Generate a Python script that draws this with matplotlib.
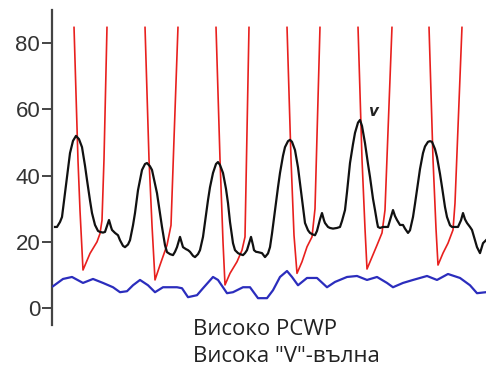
import numpy as np
import matplotlib
matplotlib.use("Agg")
import matplotlib.pyplot as plt

# Time base (arbitrary units) and pressures (mmHg)
nan = np.nan

# Left-ventricular pressure: each beat drawn from the top of the scale down
# to end-diastole and back up; systolic tops run off-scale.
lv_t = [74, 78, 80, 83, 90, 97, 100, 102, 104, 107, nan,
        145, 149, 152, 155, 160, 167, 171, 174, 178, nan,
        216, 220, 223, 225, 230, 237, 242, 245, 249, nan,
        287, 291, 294, 297, 302, 307, 312, 315, 320, nan,
        358, 362, 365, 367, 372, 377, 382, 385, 392, nan,
        429, 433, 436, 438, 443, 448, 453, 455, 462]
lv_p = [85, 44.5, 29.5, 11.5, 16.5, 20, 22.5, 26.5, 45, 85, nan,
        85, 45, 25, 8.5, 13, 19, 25, 51, 85, nan,
        85, 45, 20, 7, 10.5, 14, 17.5, 21.5, 85, nan,
        85, 45, 22, 10.5, 14, 18.5, 21.5, 30, 85, nan,
        85, 45, 24, 11.8, 15.4, 19, 22.7, 29.6, 85, nan,
        85, 45, 24, 13, 16.6, 19.6, 23.6, 31.7, 85]

# Pulmonary capillary wedge pressure with tall v-waves
pcwp_t = [55, 57, 60, 62, 65, 68, 70, 73, 76, 79, 82, 85, 87, 90, 92, 95,
          98, 100, 103, 105, 107, 109, 111, 112, 115, 118, 120, 123, 125,
          128, 130, 133, 135, 138, 142, 145, 147, 150, 152, 155, 157, 160,
          162, 165, 167, 170, 173, 175, 177, 180, 182, 183, 186, 188, 190,
          193, 195, 198, 200, 203, 205, 208, 210, 213, 216, 218, 220, 223,
          226, 228, 230, 233, 235, 238, 240, 243, 245, 247, 249, 251, 253,
          254, 256, 258, 262, 265, 268, 270, 272, 275, 278, 280, 283, 285,
          288, 290, 292, 295, 298, 300, 303, 305, 308, 310, 313, 315, 317,
          318, 320, 322, 324, 325, 328, 330, 333, 337, 340, 342, 345, 347,
          350, 353, 355, 358, 360, 362, 365, 368, 370, 373, 375, 377, 378,
          380, 383, 386, 388, 390, 393, 395, 397, 400, 403, 405, 408, 410,
          413, 415, 418, 420, 423, 425, 428, 430, 432, 435, 437, 440, 442,
          445, 447, 450, 452, 455, 458, 461, 463, 465, 467, 470, 472, 475,
          477, 480, 483, 486]
pcwp_p = [24.5, 24.5, 26, 27.5, 34.7, 42, 46.8, 50.5, 52, 51, 48.6, 43,
          38.7, 32.5, 28.7, 25.1, 23.3, 23, 22.8, 23, 24.8, 26.6, 24.5, 23.6,
          22.7, 22, 20.5, 18.8, 18.4, 19.2, 20.5, 25, 28.7, 35.6, 41.7, 43.5,
          43.8, 42.8, 41.7, 37.5, 34.7, 28.5, 24.5, 19, 16.9, 16.3, 16, 17,
          18.4, 21.5, 19.5, 18.4, 17.8, 17.5, 17, 15.8, 15.4, 16.3, 17.5,
          21.5, 26, 32.6, 36.5, 40.8, 43.5, 44.1, 43.2, 40.8, 36, 31.7, 26,
          19.6, 17.5, 16.6, 16.3, 16, 16.6, 17.5, 19.5, 21.5, 19, 17.5, 17,
          16.9, 16.6, 15.4, 16.5, 18.4, 22.5, 29.6, 36.5, 40.8, 46, 48.6,
          50.4, 50.8, 50.2, 47.7, 42.5, 37.8, 30.5, 25.7, 23.5, 22.7, 22.2,
          22, 23.3, 24.5, 26.8, 28.7, 26.5, 25.7, 24.5, 24.2, 24, 24.2, 24.5,
          26.3, 29.6, 35, 43.8, 49.5, 52.9, 56, 56.8, 55, 49.8, 43.5, 39.6,
          33, 29.6, 26, 24.5, 24.2, 24.5, 24.5, 24.5, 26.5, 29.6, 27.8, 26.6,
          25.1, 25.1, 24, 22.7, 23.5, 27.5, 31.5, 37.8, 42, 46.8, 48.8, 50.2,
          50.4, 50.2, 48, 45.6, 40.5, 36.6, 30.5, 27.5, 25, 24.5, 24.5, 24.5,
          26.5, 28.7, 26.8, 25.7, 24.5, 23.6, 20.5, 18.4, 16.6, 19.6, 20.5]

# Left-atrial / baseline pressure trace
la_t = [53, 63, 72, 83, 93, 103, 113, 120, 127, 133, 140, 148, 155, 163,
        177, 182, 188, 197, 203, 213, 218, 227, 233, 243, 250, 258, 267,
        273, 280, 287, 292, 298, 307, 317, 327, 335, 347, 357, 367, 377,
        387, 393, 403, 413, 427, 437, 448, 460, 470, 477, 486]
la_p = [6.6, 8.8, 9.4, 7.6, 8.8, 7.6, 6.3, 4.8, 5.1, 6.9, 8.5, 6.9, 4.8,
        6.3, 6.3, 6, 3.3, 3.9, 6, 9.4, 8.5, 4.5, 4.8, 6.3, 6.3, 3, 3, 5.4,
        9.4, 11.2, 9.4, 6.9, 9.1, 9.1, 6.3, 7.9, 9.4, 9.7, 8.5, 9.4, 7.6,
        6.3, 7.6, 8.5, 9.7, 8.5, 10.3, 9.1, 6.9, 4.5, 4.8]

yticks = [0, 20, 40, 60, 80]
caption = ["Високо PCWP", "Висока \"V\"-вълна"]

fig = plt.figure(figsize=(4.86, 3.68), dpi=100)
ax = fig.add_axes([52 / 486, 1 - 325 / 368, 1 - 52 / 486, (325 - 10) / 368])

ax.plot(lv_t, lv_p, color="#e8201e", lw=1.2, solid_capstyle="butt", zorder=2)
ax.plot(pcwp_t, pcwp_p, color="#111111", lw=1.6, solid_joinstyle="round",
        zorder=3)
ax.plot(la_t, la_p, color="#2b2dbd", lw=1.6, solid_joinstyle="round",
        zorder=3)

ax.set_xlim(52, 486)
ax.set_ylim(-5.1, 90)

for side in ("top", "right", "bottom"):
    ax.spines[side].set_visible(False)
ax.spines["left"].set_color("#444444")
ax.spines["left"].set_linewidth(1.6)

ax.set_xticks([])
ax.set_yticks(yticks)
ax.set_yticklabels([str(v) for v in yticks])
ax.tick_params(axis="y", direction="out", length=7, width=1.4, color="#444444",
               labelsize=16, labelcolor="#333333", pad=1.5)
for lbl in ax.get_yticklabels():
    lbl.set_family(["Liberation Sans", "DejaVu Sans"])

ax.text(373, 59.5, "v", fontsize=11, fontweight="bold", fontstyle="italic",
        color="#222222", ha="center", va="center")

fig.text(193 / 486, 1 - 335 / 368, caption[0], fontsize=16, color="#222222",
         family=["Open Sans", "DejaVu Sans"], ha="left", va="baseline")
fig.text(193 / 486, 1 / 368, caption[1], fontsize=16, color="#222222",
         family=["Open Sans", "DejaVu Sans"], ha="left", va="bottom")

fig.savefig("out.png", dpi=100)
